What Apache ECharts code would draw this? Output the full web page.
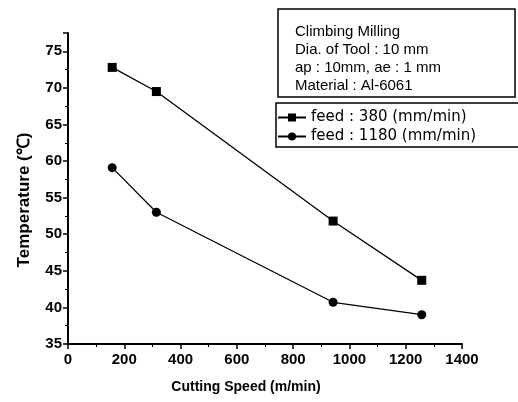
<!DOCTYPE html>
<html><head><meta charset="utf-8">
<script src="https://cdn.jsdelivr.net/npm/echarts@6/dist/echarts.min.js"></script>
<style>html,body{margin:0;padding:0;background:#fff}#c{width:518px;height:402px}</style>
</head><body><div id="c"></div>
<script>
const speeds = [157, 314, 942, 1257];
const feed380 = [72.8, 69.5, 51.8, 43.7];
const feed1180 = [59.1, 53.0, 40.7, 39.0];
const seriesNames = ['feed : 380 (mm/min)', 'feed : 1180 (mm/min)'];
const noteLines = ['Climbing Milling', 'Dia. of Tool : 10 mm', 'ap : 10mm, ae : 1 mm', 'Material : Al-6061'];
const xTitle = 'Cutting Speed (m/min)';
const yTitle = 'Temperature (\u2103)';

const chart = echarts.init(document.getElementById('c'), null, {renderer: 'canvas'});
const font = 'Liberation Sans, Arial, sans-serif';
const pairs = a => speeds.map((s, i) => [s, a[i]]);
chart.setOption({
  animation: false,
  backgroundColor: '#fff',
  grid: {left: 68, right: 56, top: 33, bottom: 58},
  xAxis: {
    type: 'value', min: 0, max: 1400, interval: 200,
    axisLine: {lineStyle: {color: '#000', width: 2}},
    axisTick: {length: 5, lineStyle: {color: '#000', width: 1.5}},
    minorTick: {show: true, splitNumber: 2, length: 3, lineStyle: {color: '#000'}},
    axisLabel: {fontFamily: font, fontSize: 15, fontWeight: 'bold', color: '#000', margin: 8,
      formatter: v => String(v)},
    splitLine: {show: false}
  },
  yAxis: {
    type: 'value', min: 35, max: 77.5, interval: 5,
    axisLine: {show: true, lineStyle: {color: '#000', width: 2}},
    axisTick: {show: true, length: 5, lineStyle: {color: '#000', width: 1.5}},
    minorTick: {show: true, splitNumber: 2, length: 3, lineStyle: {color: '#000'}},
    axisLabel: {fontFamily: font, fontSize: 15, fontWeight: 'bold', color: '#000', margin: 6, showMaxLabel: false},
    splitLine: {show: false}
  },
  legend: {
    orient: 'vertical', left: 277, top: 110, padding: 0, itemGap: 4, itemWidth: 28, itemHeight: 10,
    textStyle: {fontFamily: 'DejaVu Sans, sans-serif', fontSize: 15, color: '#000'},
    data: seriesNames
  },
  graphic: [
    {type: 'rect', shape: {x: 278, y: 9, width: 237, height: 88}, style: {fill: 'none', stroke: '#000', lineWidth: 1.5}},
    {type: 'rect', shape: {x: 276, y: 103, width: 245, height: 44}, style: {fill: 'none', stroke: '#000', lineWidth: 1.5}},
    {type: 'text', x: 295, y: 23, style: {text: noteLines.join('\n'), font: '15px ' + font, lineHeight: 18, fill: '#000'}},
    {type: 'text', x: 246, y: 387, style: {text: xTitle, font: 'bold 14px ' + font, fill: '#000', textAlign: 'center', textVerticalAlign: 'middle'}},
    {type: 'text', x: 24, y: 200, rotation: Math.PI / 2, style: {text: yTitle, font: 'bold 17px ' + font, fill: '#000', textAlign: 'center', textVerticalAlign: 'middle'}}
  ],
  series: [
    {name: seriesNames[0], type: 'line', data: pairs(feed380), symbol: 'rect', symbolSize: 9,
     itemStyle: {color: '#000'}, lineStyle: {color: '#000', width: 1.3}},
    {name: seriesNames[1], type: 'line', data: pairs(feed1180), symbol: 'circle', symbolSize: 9,
     itemStyle: {color: '#000'}, lineStyle: {color: '#000', width: 1.3}}
  ]
});
</script></body></html>
